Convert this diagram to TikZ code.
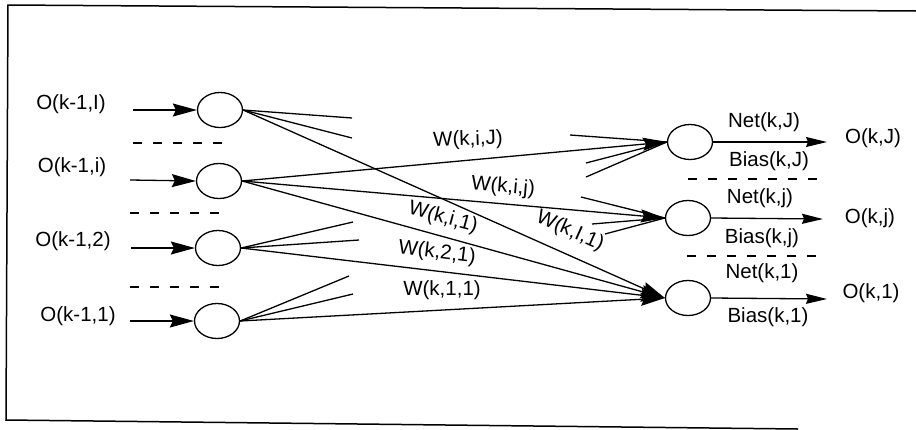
\documentclass[tikz,border=0pt]{standalone}
\usepackage{fontspec}
\setmainfont{Liberation Sans}
\usetikzlibrary{arrows.meta,shapes.geometric}
\begin{document}
\begin{tikzpicture}[x=1pt,y=-1pt,line width=1.3pt,
  neuron/.style={draw,ellipse,minimum width=45pt,minimum height=35pt,inner sep=0pt},
  lbl/.style={font=\fontsize{20.5}{24}\selectfont,inner sep=0pt},
  arr/.style={-{Stealth[length=24pt,width=13pt,inset=3pt]}},
  oarr/.style={-{Stealth[length=21pt,width=10pt,inset=2pt]}},
  sep/.style={dash pattern=on 9pt off 11pt}]
\useasboundingbox (0,0) rectangle (916,429);
% frame
\draw[line width=1.5pt] (916,11) -- (8,5) -- (6,420) -- (798,429);
% left neurons
\node[neuron] (nI) at (220,110) {};
\node[neuron] (ni) at (219,181) {};
\node[neuron] (n2) at (218,248) {};
\node[neuron] (n1) at (217,321) {};
% right neurons
\node[neuron] (rJ) at (690,142) {};
\node[neuron] (rj) at (688,218) {};
\node[neuron] (r1) at (688,298) {};
% input labels
\node[lbl] (tI) at (71,104) {O(k-1,I)};
\node[lbl] (ti) at (72,167) {O(k-1,i)};
\node[lbl] (t2) at (73,241) {O(k-1,2)};
\node[lbl] (t1) at (78,316) {O(k-1,1)};
% input arrows
\coordinate (aI) at (133,110);
\coordinate (ai) at (130,180);
\coordinate (a2) at (131,248);
\coordinate (a1) at (130,321);
\draw[arr] (aI) -- (nI.west);
\draw[arr] (ai) -- (ni.west);
\draw[arr] (a2) -- (n2.west);
\draw[arr] (a1) -- (n1.west);
% left separators
\coordinate (s1a) at (133,143); \coordinate (s1b) at (222,143);
\coordinate (s2a) at (130,213); \coordinate (s2b) at (220,213);
\coordinate (s3a) at (130,287); \coordinate (s3b) at (220,287);
\draw[sep] (s1a) -- (s1b);
\draw[sep] (s2a) -- (s2b);
\draw[sep] (s3a) -- (s3b);
% stubs from left neurons
\coordinate (uI1) at (352,118); \coordinate (uI2) at (352,138);
\coordinate (u21) at (353,222); \coordinate (u22) at (359,240);
\coordinate (u11) at (349,276); \coordinate (u12) at (353,294);
\draw (nI.east) -- (uI1);
\draw (nI.east) -- (uI2);
\draw (n2.east) -- (u21);
\draw (n2.east) -- (u22);
\draw (n1.east) -- (u11);
\draw (n1.east) -- (u12);
% stubs into right neurons
\coordinate (vJ1) at (570,135); \coordinate (vJ2) at (586,163); \coordinate (vJ3) at (586,177);
\coordinate (vj1) at (581,197); \coordinate (vj2) at (592,224); \coordinate (vj3) at (605,234);
\draw (vJ1) -- (rJ.west);
\draw (vJ2) -- (rJ.west);
\draw (vJ3) -- (rJ.west);
\draw (vj1) -- (rj.west);
\draw (vj2) -- (rj.west);
\draw (vj3) -- (rj.west);
% weighted connections
\draw[arr] (ni.east) -- (rJ.west);
\draw[arr] (ni.east) -- (rj.west);
\draw[arr] (ni.east) -- (r1.west);
\draw[arr] (nI.east) -- (r1.west);
\draw[arr] (n2.east) -- (r1.west);
\draw[arr] (n1.east) -- (r1.west);
% weight labels
\node[lbl,rotate=2] (wiJ) at (468,140) {W(k,i,J)};
\node[lbl,rotate=-5] (wij) at (503,187) {W(k,i,j)};
\node[lbl,rotate=-15] (wi1) at (443,218) {W(k,i,1)};
\node[lbl,rotate=-24] (wI1) at (570,231) {W(k,I,1)};
\node[lbl,rotate=-7] (w21) at (437,253) {W(k,2,1)};
\node[lbl] (w11) at (442,290) {W(k,1,1)};
% outputs
\coordinate (oJ) at (827,142);
\coordinate (oj) at (823,219);
\coordinate (o1) at (827,299);
\draw[oarr] (rJ.east) -- (oJ);
\draw[oarr] (rj.east) -- (oj);
\draw[oarr] (r1.east) -- (o1);
\node[lbl] (netJ) at (764,122) {Net(k,J)};
\node[lbl] (biasJ) at (769,161) {Bias(k,J)};
\node[lbl] (outJ) at (873,138) {O(k,J)};
\node[lbl] (netj) at (760,198) {Net(k,j)};
\node[lbl] (biasj) at (762,238) {Bias(k,j)};
\node[lbl] (outj) at (870,218) {O(k,j)};
\node[lbl] (net1) at (762,273) {Net(k,1)};
\node[lbl] (bias1) at (768,317) {Bias(k,1)};
\node[lbl] (out1) at (871,293) {O(k,1)};
% right separators
\coordinate (d1a) at (688,179); \coordinate (d1b) at (826,179);
\coordinate (d2a) at (687,256); \coordinate (d2b) at (826,256);
\draw[sep] (d1a) -- (d1b);
\draw[sep] (d2a) -- (d2b);
\end{tikzpicture}
\end{document}
